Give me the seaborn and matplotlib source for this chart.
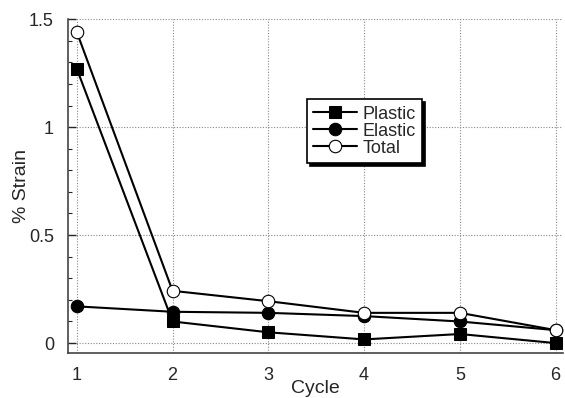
import matplotlib
matplotlib.use("Agg")
import matplotlib.pyplot as plt
import seaborn as sns
import numpy as np
from matplotlib.ticker import MultipleLocator

cycles = [1, 2, 3, 4, 5, 6]
plastic = [1.27, 0.10, 0.05, 0.017, 0.042, 0.0]
elastic = [0.17, 0.145, 0.14, 0.125, 0.10, 0.06]
total = [1.44, 0.242, 0.194, 0.14, 0.14, 0.06]

sns.set_style("white")
plt.rcParams['font.family'] = ['Liberation Sans', 'DejaVu Sans']

fig = plt.figure(figsize=(5.65, 3.98), dpi=100)
ax = fig.add_axes([0.12, 0.113, 0.877, 0.839])

sns.lineplot(x=cycles, y=plastic, ax=ax, color='black', lw=1.5, marker='s',
             markersize=9, markerfacecolor='black', markeredgecolor='black', label='Plastic', zorder=3)
sns.lineplot(x=cycles, y=elastic, ax=ax, color='black', lw=1.5, marker='o',
             markersize=9, markerfacecolor='black', markeredgecolor='black', label='Elastic', zorder=3)
sns.lineplot(x=cycles, y=total, ax=ax, color='black', lw=1.5, marker='o',
             markersize=9, markerfacecolor='white', markeredgecolor='black', markeredgewidth=0.8,
             label='Total', zorder=3)

ax.set_xlim(0.906, 6.08)
ax.set_ylim(-0.046, 1.5)
ax.set_xticks(cycles)
ax.set_yticks([0, 0.5, 1, 1.5])
ax.set_yticklabels(['0', '0.5', '1', '1.5'])
ax.yaxis.set_minor_locator(MultipleLocator(0.1))
ax.grid(True, which='major', color='#888888', linestyle=(0, (1, 1.5)), linewidth=0.8)
ax.tick_params(axis='y', which='major', direction='in', length=6, width=1, labelsize=13, left=True, pad=10)
ax.tick_params(axis='y', which='minor', direction='in', length=3, width=0.8, left=True)
ax.tick_params(axis='x', which='major', length=0, labelsize=13, pad=10)

for s in ['top', 'right']:
    ax.spines[s].set_visible(False)
for s in ['left', 'bottom']:
    ax.spines[s].set_color('#444444')
    ax.spines[s].set_linewidth(1.2)

ax.set_xlabel('Cycle', fontsize=14, labelpad=-3)
ax.set_ylabel('% Strain', fontsize=14, labelpad=-1)

leg = ax.legend(loc='upper left', bbox_to_anchor=(0.483, 0.76), frameon=True, fancybox=False,
                shadow={'color': 'black', 'alpha': 1}, fontsize=13, handlelength=2.4,
                borderpad=0.35, labelspacing=0.0, handletextpad=0.3, borderaxespad=0)
leg.get_frame().set_edgecolor('black')
leg.get_frame().set_linewidth(1.2)
leg.get_frame().set_alpha(1)

fig.savefig('out.png', dpi=100)
